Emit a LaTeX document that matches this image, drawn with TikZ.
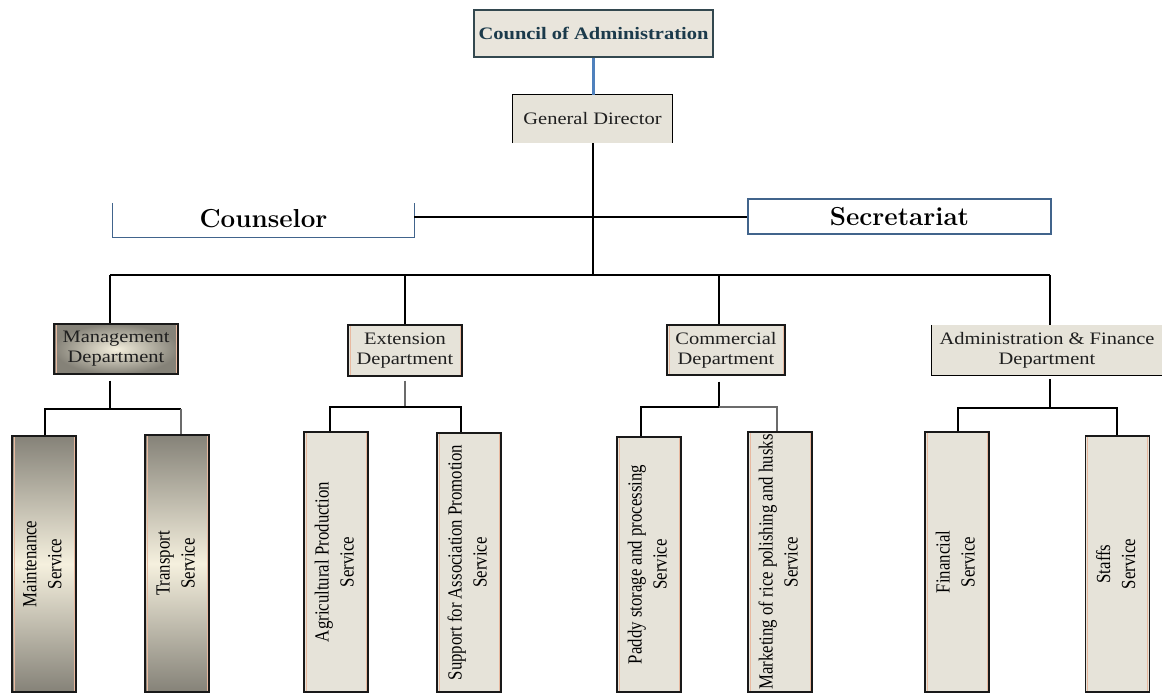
\documentclass[tikz,border=0pt]{standalone}
\usepackage{fontspec}
\newfontfamily\deptfont[FakeStretch=1.17]{Liberation Serif}
\newfontfamily\svcfont[FakeStretch=0.84]{Liberation Serif}
\definecolor{boxfill}{HTML}{E6E3D9}
\definecolor{cfill}{HTML}{E9E5DC}
\definecolor{cline}{HTML}{33484F}
\definecolor{ctext}{HTML}{1B3A4B}
\definecolor{blueconn}{HTML}{4F81BD}
\definecolor{cousline}{HTML}{41648C}
\definecolor{grayline}{HTML}{6B6B6B}
\definecolor{shgray}{HTML}{858278}
\definecolor{shcream}{HTML}{F5F0DE}
\definecolor{peach}{HTML}{E8B9A0}
\begin{document}
\begin{tikzpicture}[x=1pt,y=-1pt,
  box/.style={fill=boxfill, draw=black!90, line width=1.2pt, inner sep=0pt, align=center},
  peachsides/.style={path picture={
     \draw[peach, line width=1pt] ([xshift=2pt]path picture bounding box.south west) -- ([xshift=2pt]path picture bounding box.north west);
     \draw[peach, line width=1pt] ([xshift=-2pt]path picture bounding box.south east) -- ([xshift=-2pt]path picture bounding box.north east);}},
  dept/.style={box, peachsides, font=\deptfont\fontsize{17.5}{20}\selectfont, text=black!88},
  svc/.style={box, peachsides, minimum width=64pt, font=\svcfont\fontsize{20}{25}\selectfont},
  grad/.style={top color=shgray, bottom color=shgray, middle color=shcream},
  conn/.style={line width=2pt, black},
  gconn/.style={line width=2pt, grayline},
  bconn/.style={line width=2.5pt, blueconn},
  wide/.style={font=\bfseries\fontsize{26}{30}\selectfont, inner sep=0pt}
]
\useasboundingbox (0,0) rectangle (1162,693);

% top
\node[box, fill=cfill, draw=cline, minimum width=239pt, minimum height=47pt,
  font=\deptfont\bfseries\fontsize{17.5}{20}\selectfont, text=ctext] (council) at (593.5,33.5) {Council of Administration};
\node[fill=boxfill, inner sep=0pt, minimum width=159pt, minimum height=48pt,
  font=\deptfont\fontsize{17.5}{20}\selectfont, text=black!88] (gd) at (592.5,119) {General Director};
\draw[line width=1.2pt] (gd.south west) -- (gd.north west) -- (gd.north east) -- (gd.south east);

\node[wide, minimum width=301pt, minimum height=36pt] (couns) at (263.5,219) {Counselor};
\draw[cousline, line width=1.3pt] ([yshift=-2pt]couns.north west) -- (couns.south west) -- (couns.south east) -- ([yshift=-2pt]couns.north east);
\node[wide, draw=cousline, line width=1.3pt, minimum width=303pt, minimum height=35pt] (sec) at (899.5,216.5) {Secretariat};

% departments
\node[dept, inner color=shcream, outer color=shgray, minimum width=124pt, minimum height=50pt] (mgmt) at (116,349) {Management\\Department};
\node[dept, minimum width=114pt, minimum height=51pt] (ext) at (405,350.5) {Extension\\Department};
\node[dept, minimum width=118pt, minimum height=50pt] (comm) at (726,350) {Commercial\\Department};
\node[fill=boxfill, inner sep=0pt, align=center, font=\deptfont\fontsize{17.5}{20}\selectfont, text=black!88,
  minimum width=230pt, minimum height=50pt] (admin) at (1047,350) {Administration \& Finance\\Department};
\draw[line width=1.2pt] (admin.north west) -- (admin.south west) -- (admin.south east);

% services
\newcommand{\vt}[2]{\rotatebox{90}{\begin{tabular}{@{}c@{}}#1\\#2\end{tabular}}}
\node[svc, grad, minimum height=256pt] (maint) at (44,564) {\vt{Maintenance}{Service}};
\node[svc, grad, minimum height=257pt] (trans) at (177,563.5) {\vt{Transport}{Service}};
\node[svc, minimum height=260pt] (agri) at (336,562) {\vt{Agricultural Production}{Service}};
\node[svc, minimum height=259pt] (supp) at (469,562.5) {\vt{Support for Association Promotion}{Service}};
\node[svc, minimum height=255pt] (padd) at (649,564.5) {\vt{Paddy storage and processing}{Service}};
\node[svc, minimum height=260pt] (mark) at (780,562) {\vt{Marketing of rice polishing and husks}{Service}};
\node[svc, minimum height=260pt] (fina) at (957,562) {\vt{Financial}{Service}};
\node[svc, minimum height=256pt] (staf) at (1117.5,564) {\vt{Staffs}{Service}};

% connectors top
\draw[bconn] (council.south) -- (council.south |- gd.north);
\coordinate (hub) at (593,217);
\coordinate (busC) at (593,275);
\draw[conn] (gd.south -| busC) -- (busC);
\draw[conn] (couns.east |- hub) -- (sec.west |- hub);
\coordinate (d1) at (110,275);
\coordinate (d2) at (405,275);
\coordinate (d3) at (719,275);
\coordinate (d4) at (1050,275);
\draw[conn] (d1) -- (d4);
\draw[conn] (d1) -- (d1 |- mgmt.north);
\draw[conn] (d2) -- (d2 |- ext.north);
\draw[conn] (d3) -- (d3 |- comm.north);
\draw[conn] (d4) -- (d4 |- admin.north);

% management branch
\coordinate (m0) at (110,409);
\coordinate (mL) at (45,409);
\coordinate (mR) at (181,409);
\draw[conn] (m0 |- mgmt.south) ++(0,6) -- (m0);
\draw[conn] (mL |- maint.north) -- (mL) -- (mR);
\draw[gconn] (mR) -- (mR |- trans.north);

% extension branch
\coordinate (e0) at (405,407);
\coordinate (eL) at (330,407);
\coordinate (eR) at (461,407);
\draw[gconn] (e0 |- ext.south) ++(0,4) -- (e0);
\draw[conn] (eL |- agri.north) -- (eL) -- (eR) -- (eR |- supp.north);

% commercial branch
\coordinate (c0) at (719,407);
\coordinate (cL) at (641,407);
\coordinate (cR) at (777,407);
\draw[conn] (c0 |- comm.south) ++(0,6) -- (c0);
\draw[conn] (cL |- padd.north) -- (cL) -- (c0);
\draw[gconn] (c0) -- (cR) -- (cR |- mark.north);

% admin branch
\coordinate (a0) at (1050,408);
\coordinate (aL) at (958,408);
\coordinate (aR) at (1117,408);
\draw[conn] (a0 |- admin.south) ++(0,4) -- (a0);
\draw[conn] (aL |- fina.north) -- (aL) -- (aR) -- (aR |- staf.north);
\end{tikzpicture}
\end{document}
